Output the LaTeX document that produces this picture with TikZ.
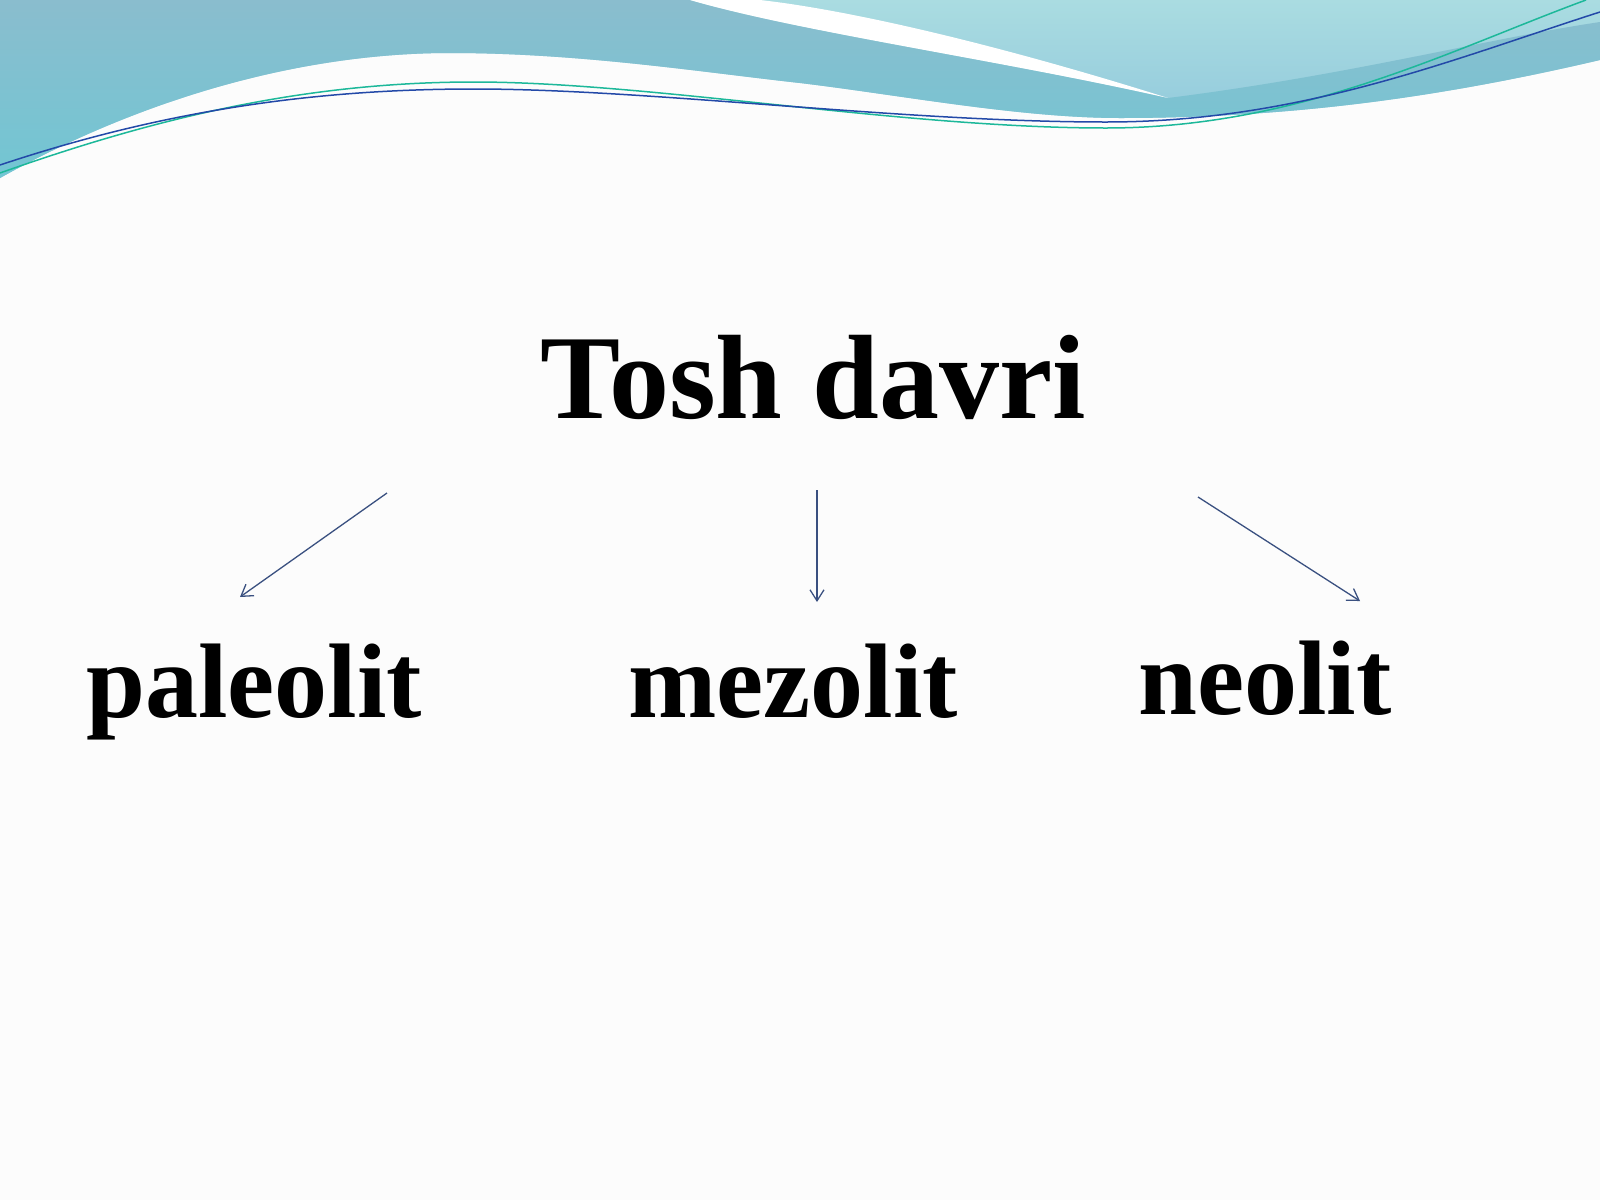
\documentclass[tikz,border=0pt]{standalone}
\usepackage{fontspec}
\setmainfont{Liberation Serif}
\usetikzlibrary{arrows.meta}
\definecolor{bgcol}{HTML}{FCFCFC}
\definecolor{bandtop}{HTML}{8ABDCE}
\definecolor{bandbot}{HTML}{72C6D3}
\definecolor{lighttop}{HTML}{AADCE1}
\definecolor{lightbot}{HTML}{88C2DA}
\definecolor{linegreen}{HTML}{1DB89A}
\definecolor{lineblue}{HTML}{2349A8}
\definecolor{arrowcol}{HTML}{3A5080}
\tikzset{
  titletext/.style={anchor=base, inner sep=0pt, font=\fontsize{120}{132}\selectfont\bfseries},
  periodtext/.style={anchor=base, inner sep=0pt, font=\fontsize{106}{120}\selectfont\bfseries},
  conn/.style={draw=arrowcol, line width=1.3pt, -{Straight Barb[length=11pt,width=14pt]}},
}
\begin{document}
\begin{tikzpicture}[x=1pt,y=-1pt]
\useasboundingbox (0,0) rectangle (1600,1200);
\fill[bgcol] (0,0) rectangle (1600,1200);
\begin{scope}
\clip (0,0) rectangle (1600,1200);
% light region (whole top area)
\shade[top color=lighttop, bottom color=lightbot]
  (0,0) -- (1600,0) -- (1600,60)
  .. controls (1450,95) and (1300,118) .. (1120,118)
  .. controls (1020,118) and (900,95) .. (800,83)
  .. controls (700,72) and (580,53) .. (450,53)
  .. controls (290,53) and (130,105) .. (0,178) -- cycle;
% main teal band
\shade[top color=bandtop, bottom color=bandbot]
  (0,0) -- (690,0)
  .. controls (800,32) and (1000,60) .. (1168,98)
  .. controls (1350,75) and (1480,40) .. (1600,22)
  -- (1600,60)
  .. controls (1450,95) and (1300,118) .. (1120,118)
  .. controls (1020,118) and (900,95) .. (800,83)
  .. controls (700,72) and (580,53) .. (450,53)
  .. controls (290,53) and (130,105) .. (0,178) -- cycle;
% white streak
\fill[white]
  (690,0) .. controls (800,32) and (1000,60) .. (1168,98)
  .. controls (1000,45) and (850,10) .. (760,0) -- cycle;
% thin lines
\draw[linegreen, line width=1.5pt]
  (0,173) .. controls (150,120) and (300,82) .. (474,82)
  .. controls (650,82) and (900,128) .. (1106,128)
  .. controls (1300,128) and (1450,50) .. (1586,0);
\draw[lineblue, line width=1.5pt]
  (0,165) .. controls (150,115) and (300,89) .. (474,89)
  .. controls (650,89) and (900,122) .. (1106,122)
  .. controls (1300,122) and (1450,60) .. (1600,12);
\end{scope}

% texts
\node[titletext] (tosh) at (813,418) {Tosh davri};
\node[periodtext] (paleo) at (254,717) {paleolit};
\node[periodtext] (mezo) at (793,717) {mezolit};
\node[periodtext] (neo) at (1265,714) {neolit};

% arrow end points
\coordinate (a1s) at (387,493);
\coordinate (a1e) at (240,597);
\coordinate (a2s) at (817,490);
\coordinate (a2e) at (817,602);
\coordinate (a3s) at (1198,497);
\coordinate (a3e) at (1360,601);
\draw[conn] (a1s) -- (a1e);
\draw[conn] (a2s) -- (a2e);
\draw[conn] (a3s) -- (a3e);
\end{tikzpicture}
\end{document}
